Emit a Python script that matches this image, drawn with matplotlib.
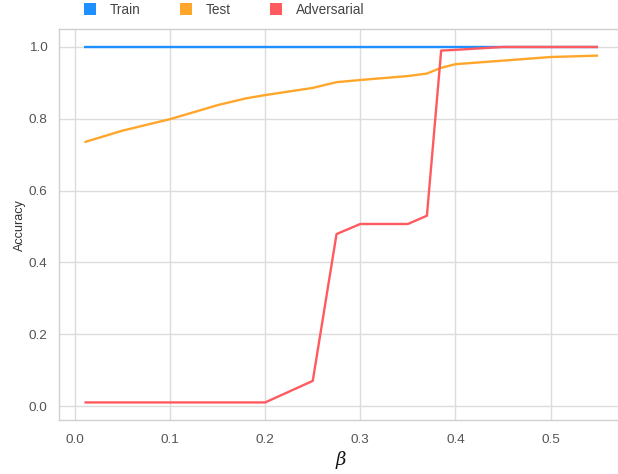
import matplotlib
matplotlib.use("Agg")
import matplotlib.pyplot as plt
from matplotlib.lines import Line2D

# beta values and accuracies per split
beta = [0.01, 0.05, 0.1, 0.15, 0.18, 0.2, 0.25, 0.275, 0.3, 0.35, 0.37, 0.385, 0.4, 0.45, 0.5, 0.55]
train_acc = [1.0] * 16
test_acc = [0.735, 0.767, 0.799, 0.838, 0.857, 0.866, 0.886, 0.902, 0.908, 0.919, 0.926, 0.942, 0.952, 0.962, 0.972, 0.976]
adv_acc = [0.01, 0.01, 0.01, 0.01, 0.01, 0.01, 0.07, 0.479, 0.507, 0.507, 0.53, 0.99, 0.992, 1.0, 1.0, 1.0]

series_names = ["Train", "Test", "Adversarial"]
series_colors = ["#1E90FF", "#FFA62B", "#FF5A5F"]

plt.rcParams["font.family"] = ["Liberation Sans", "DejaVu Sans"]
plt.rcParams["mathtext.fontset"] = "dejavuserif"

fig = plt.figure(figsize=(6.18, 4.74), dpi=100)
W, H = 618, 474
ax = fig.add_axes([58.8 / W, (H - 420.2) / H, 565 / W, 391 / H])

for vals, name, col in zip([train_acc, test_acc, adv_acc], series_names, series_colors):
    ax.plot(beta, vals, color=col, lw=1.7, label=name, solid_capstyle="butt")

ax.set_xlim(-0.017, 0.577)
ax.set_ylim(-0.0395, 1.0495)
ax.set_xticks([0.0, 0.1, 0.2, 0.3, 0.4, 0.5])
ax.set_yticks([0.0, 0.2, 0.4, 0.6, 0.8, 1.0])
ax.grid(True, color="#dcdcdc", lw=1.0)
ax.set_axisbelow(True)
for s in ax.spines.values():
    s.set_color("#d0d0d0")
    s.set_linewidth(1.0)
ax.tick_params(length=0, colors="#555555", labelsize=9.7)
ax.tick_params(axis="x", pad=10)
ax.tick_params(axis="y", pad=8)
ax.set_ylabel("Accuracy", fontsize=9.1, color="#333333", labelpad=2)
ax.set_xlabel(r"$\beta$", fontsize=13, color="#111111", labelpad=2)

handles = [Line2D([], [], ls="none", marker="s", markersize=9, color=c, markeredgewidth=0)
           for c in series_colors]
fig.legend(handles, series_names, loc="center left", bbox_to_anchor=(83 / W, 1 - 10 / H),
           ncol=3, frameon=False, fontsize=9.8, handlelength=1.0, handletextpad=0.95,
           columnspacing=2.85, labelcolor="#444444", borderaxespad=0, borderpad=0)

fig.savefig("out.png", dpi=100, facecolor="white")
